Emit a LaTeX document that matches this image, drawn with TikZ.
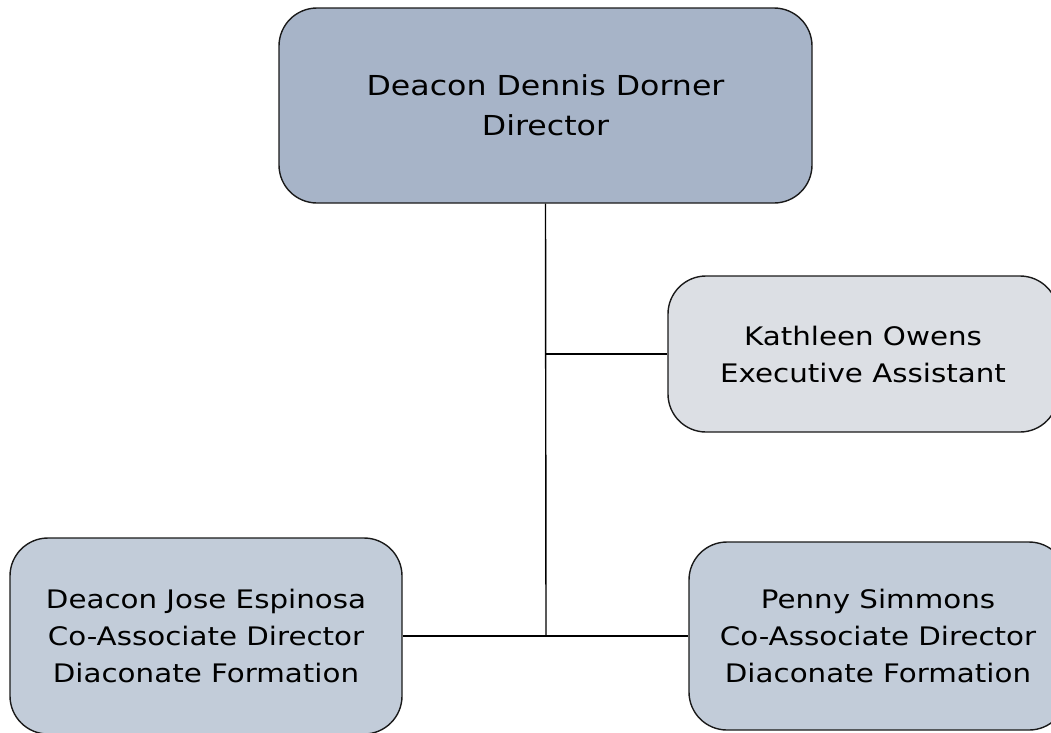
\documentclass[tikz,border=0pt]{standalone}
\usepackage{fontspec}
\setmainfont{DejaVu Sans}[FakeStretch=1.15]
\definecolor{topfill}{HTML}{A7B4C8}
\definecolor{asstfill}{HTML}{DCDFE4}
\definecolor{assocfill}{HTML}{C2CCD9}
\definecolor{edgecol}{HTML}{1A1A1A}
\tikzset{
  orgbox/.style={draw=edgecol, line width=1.4pt, rounded corners=38pt, align=center,
    inner sep=0pt, font=\fontsize{25.5}{37}\selectfont, text=black},
  link/.style={draw=black, line width=1.4pt}
}
\begin{document}
\begin{tikzpicture}[x=1pt,y=-1pt]
\useasboundingbox (0,0) rectangle (1051,732);
\clip (0,0) rectangle (1051,732);
\node[orgbox, fill=topfill, minimum width=533pt, minimum height=195pt, font=\fontsize{27.5}{40}\selectfont] (dir) at (545.5,105.5) {Deacon Dennis Dorner\\Director};
\node[orgbox, fill=asstfill, minimum width=390pt, minimum height=156pt] (kath) at (863,354) {Kathleen Owens\\Executive Assistant};
\node[orgbox, fill=assocfill, minimum width=392pt, minimum height=196pt] (jose) at (206,636) {Deacon Jose Espinosa\\Co-Associate Director\\Diaconate Formation};
\node[orgbox, fill=assocfill, minimum width=378pt, minimum height=188pt] (penny) at (878,636) {Penny Simmons\\Co-Associate Director\\Diaconate Formation};
\coordinate (j1) at (546,354);
\coordinate (j2) at (546,635);
\draw[link] (dir.south) -- (j2);
\draw[link] (j1) -- (kath.west);
\draw[link] (jose.east) -- (penny.west);
\end{tikzpicture}
\end{document}
